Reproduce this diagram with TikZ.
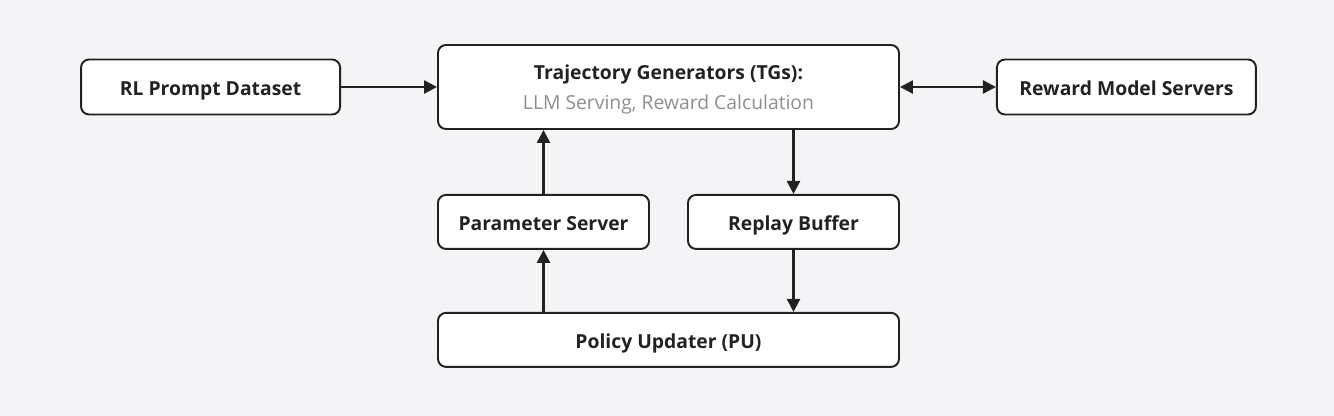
\documentclass[tikz,border=0pt]{standalone}
\usepackage{fontspec}
\setmainfont{Open Sans}
\usetikzlibrary{positioning, arrows.meta}

\definecolor{bgcol}{HTML}{F4F4F6}
\definecolor{inkcol}{HTML}{222222}
\definecolor{subcol}{HTML}{8E8E93}

\begin{document}
\begin{tikzpicture}[
    box/.style={rectangle, draw=inkcol, fill=white, line width=1.1pt, rounded corners=0.16cm,
        text=inkcol, font=\fontsize{11}{13}\selectfont\bfseries, inner sep=0pt},
    onebox/.style={box, text height=9.6pt, text depth=0pt},
    link/.style={draw=inkcol, line width=1.4pt, -{Triangle[length=0.26cm, width=0.26cm]}}
]
    \fill[bgcol] (0,0) rectangle (26.68,-8.32);
    \useasboundingbox (0,0) rectangle (26.68,-8.32);

    \node[box, align=center, text height=26pt, text depth=0pt, minimum width=9.22cm, minimum height=1.68cm] (TG) at (13.37,-1.74)
        {Trajectory Generators (TGs):\\[4pt]{\mdseries\color{subcol}LLM Serving, Reward Calculation}};
    \node[onebox, minimum width=5.18cm, minimum height=1.1cm, left=1.92cm of TG] (RL) {RL Prompt Dataset};
    \node[onebox, minimum width=5.18cm, minimum height=1.1cm, right=1.92cm of TG] (RM) {Reward Model Servers};

    \node[onebox, minimum width=4.22cm, minimum height=1.08cm, below right=1.28cm and 0cm of TG.south west] (PS) {Parameter Server};
    \node[onebox, minimum width=4.22cm, minimum height=1.08cm, below left=1.28cm and 0cm of TG.south east] (RB) {Replay Buffer};
    \node[onebox, minimum width=9.22cm, minimum height=1.08cm, below right=1.24cm and 0cm of PS.south west] (PU) {Policy Updater (PU)};

    \draw[link] (RL) -- (TG);
    \draw[link, {Triangle[length=0.26cm, width=0.26cm]}-{Triangle[length=0.26cm, width=0.26cm]}] (TG) -- (RM);
    \draw[link] (RB.north |- TG.south) -- (RB.north);
    \draw[link] (RB.south) -- (RB.south |- PU.north);
    \draw[link] (PS.south |- PU.north) -- (PS.south);
    \draw[link] (PS.north) -- (PS.north |- TG.south);
\end{tikzpicture}
\end{document}
